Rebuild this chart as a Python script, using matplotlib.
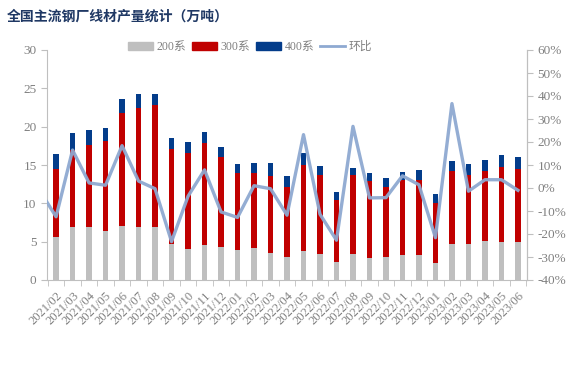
import matplotlib
matplotlib.use("Agg")
import matplotlib.pyplot as plt
import numpy as np
from matplotlib.patches import Patch
from matplotlib.lines import Line2D

categories = ["2021/02","2021/03","2021/04","2021/05","2021/06","2021/07","2021/08","2021/09",
              "2021/10","2021/11","2021/12","2022/01","2022/02","2022/03","2022/04","2022/05",
              "2022/06","2022/07","2022/08","2022/09","2022/10","2022/11","2022/12","2023/01",
              "2023/02","2023/03","2023/04","2023/05","2023/06"]
# cumulative tops
top200 = [5.57,6.87,6.87,6.43,7.0,6.87,6.87,4.65,4.09,4.6,4.35,3.96,4.22,3.57,3.04,3.83,
          3.43,2.39,3.43,2.9,3.04,3.2,3.2,2.17,4.65,4.65,5.13,5.0,5.0]
top300 = [14.48,17.0,17.57,18.17,21.8,22.5,22.87,17.13,16.52,17.9,16.09,13.96,13.9,13.6,12.1,14.96,
          13.65,10.5,13.65,12.96,12.1,13.1,13.1,10.0,14.17,13.65,14.17,14.78,14.43]
top400 = [16.5,19.2,19.6,19.87,23.65,24.3,24.3,18.57,17.96,19.35,17.39,15.17,15.3,15.3,13.5,16.6,
          14.9,11.5,14.65,14.0,13.35,14.1,14.4,11.26,15.48,15.17,15.7,16.35,16.09]
s200 = top200
s300 = [b - a for a, b in zip(top200, top300)]
s400 = [c - b for b, c in zip(top300, top400)]
# month-on-month (%), first value is 2021/01 (off-axis)
prev_mom = -1.0
mom = [-12.5,16.5,2.2,1.2,18.4,3.0,-0.3,-23.3,-3.6,7.9,-10.4,-12.8,1.0,-0.3,-11.8,23.2,
       -11.4,-22.7,26.8,-4.3,-4.2,5.3,1.4,-21.6,36.7,-1.4,3.6,3.6,-1.0]

GREY = "#BFBFBF"; RED = "#C00000"; BLUE = "#033C8A"; LINE = "#8EA9D1"
TXT = "#808080"; AX = "#BFBFBF"

plt.rcParams['font.family'] = ['Liberation Serif', 'Noto Sans CJK SC']
fig = plt.figure(figsize=(5.66, 3.66), dpi=100)
ax = fig.add_axes([47/566, 1-280/366, (527-47)/566, 230/366])
x = np.arange(len(categories))
w = 0.34
ax.bar(x, s200, w, color=GREY, zorder=2)
ax.bar(x, s300, w, bottom=s200, color=RED, zorder=2)
ax.bar(x, s400, w, bottom=top300, color=BLUE, zorder=2)
ax.set_ylim(0, 30)
ax.set_yticks(np.arange(0, 31, 5))
ax.set_xlim(-0.55, len(categories) - 0.45)
ax.set_xticks(x)
ax.set_xticklabels(categories, rotation=45, ha='right', rotation_mode='anchor',
                   fontsize=9, color=TXT)
ax.set_xticks(np.arange(-0.5, len(categories), 1), minor=True)
ax.tick_params(axis='x', which='major', length=0, pad=7)
ax.tick_params(axis='x', which='minor', length=4, color=AX)
ax.tick_params(axis='y', labelsize=9.5, labelcolor=TXT, color=AX, length=4)
for s in ['top']:
    ax.spines[s].set_visible(False)
for s in ['left', 'bottom', 'right']:
    ax.spines[s].set_color(AX)

ax2 = ax.twinx()
xl = np.concatenate([[-1], x])
ax2.plot(xl, [prev_mom] + mom, color=LINE, lw=2.4, alpha=0.95, zorder=3)
ax2.set_ylim(-40, 60)
ax2.set_yticks(np.arange(-40, 61, 10))
ax2.set_yticklabels([f"{v}%" for v in range(-40, 61, 10)])
ax2.tick_params(axis='y', labelsize=9.5, labelcolor=TXT, color=AX, length=4)
for s in ['top', 'left', 'bottom']:
    ax2.spines[s].set_visible(False)
ax2.spines['right'].set_color(AX)
ax2.set_xlim(ax.get_xlim())

fig.text(7/566, 1-17/366, "全国主流钢厂线材产量统计（万吨）", fontsize=10, fontweight='bold',
         color="#1F3864", family=['Noto Sans CJK SC'], va='center', ha='left')

handles = [Patch(color=GREY), Patch(color=RED), Patch(color=BLUE),
           Line2D([0], [0], color=LINE, lw=2)]
labels = ["200系", "300系", "400系", "环比"]
leg = fig.legend(handles, labels, loc='center', bbox_to_anchor=(250/566, 1-47/366), ncol=4,
                 frameon=False, handlelength=2.1, handleheight=0.6,
                 columnspacing=0.5, handletextpad=0.3,
                 prop={'family': ['Liberation Serif', 'Noto Sans CJK SC'], 'size': 8.5})
for t in leg.get_texts():
    t.set_color(TXT)

fig.savefig("out.png", dpi=100)
